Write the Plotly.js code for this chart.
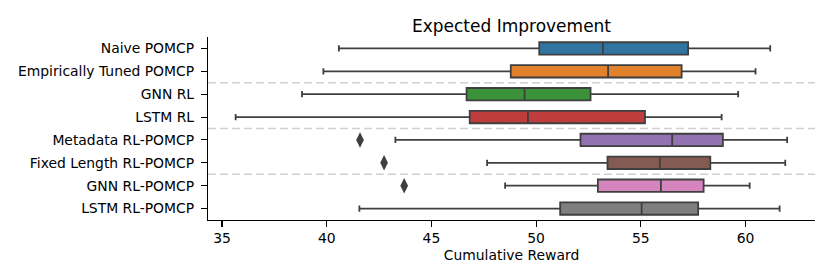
<!DOCTYPE html>
<html>
<head>
<meta charset="utf-8">
<script src="https://cdn.plot.ly/plotly-3.0.1.min.js"></script>
<style>html,body{margin:0;padding:0;background:#fff;}#chart{width:830px;height:280px;}</style>
</head>
<body>
<div id="chart"></div>
<script>
const categories = ["Naive POMCP","Empirically Tuned POMCP","GNN RL","LSTM RL","Metadata RL-POMCP","Fixed Length RL-POMCP","GNN RL-POMCP","LSTM RL-POMCP"];
const groups = ["baseline","baseline","rl","rl","ablation","ablation","ours","ours"];
const lowerWhisker = [40.58, 39.84, 38.82, 35.65, 43.28, 47.66, 48.52, 41.56];
const q1Values     = [50.15, 48.79, 46.68, 46.83, 52.12, 53.41, 52.95, 51.15];
const medianValues = [53.19, 53.44, 49.45, 49.61, 56.50, 55.91, 55.96, 55.04];
const q3Values     = [57.26, 56.95, 52.60, 55.20, 58.92, 58.32, 58.00, 57.74];
const upperWhisker = [61.18, 60.48, 59.65, 58.86, 61.99, 61.90, 60.20, 61.63];
const outlierCategories = ["Metadata RL-POMCP","Fixed Length RL-POMCP","GNN RL-POMCP"];
const outlierValues = [41.59, 42.74, 43.70];
const fillColors = ["#3274a1","#e1812c","#3a923a","#c03d3e","#9372b2","#845b53","#d684bd","#7f7f7f"];
const xTicks = [35, 40, 45, 50, 55, 60];

const edge = "#3f3f3f";
const traces = categories.map((c, i) => ({
  type: "box",
  orientation: "h",
  y: [c],
  q1: [q1Values[i]],
  median: [medianValues[i]],
  q3: [q3Values[i]],
  lowerfence: [lowerWhisker[i]],
  upperfence: [upperWhisker[i]],
  boxpoints: false,
  width: 0.54,
  whiskerwidth: 0.5,
  fillcolor: fillColors[i],
  line: {color: edge, width: 1.8},
  showlegend: false,
  hoverinfo: "x"
}));
traces.push({
  type: "scatter",
  mode: "markers",
  x: outlierValues,
  y: outlierCategories,
  marker: {symbol: "diamond-tall", size: 11, color: edge, line: {width: 0}},
  showlegend: false
});

const shapes = [];
for (let i = 1; i < groups.length; i++) {
  if (groups[i] !== groups[i-1]) {
    shapes.push({type: "line", xref: "paper", x0: 0, x1: 1, yref: "y", y0: i - 0.5, y1: i - 0.5,
      line: {color: "#d0d0d0", width: 1.5, dash: "8px,4px"}, layer: "below"});
  }
}

const font = "DejaVu Sans, sans-serif";
const layout = {
  width: 830, height: 280,
  margin: {l: 208, r: 15, t: 37, b: 60},
  paper_bgcolor: "#fff", plot_bgcolor: "#fff",
  font: {family: font, size: 13.9, color: "#000"},
  title: {text: "Expected Improvement", font: {family: font, size: 17, color: "#000"},
          xref: "paper", x: 0.5, xanchor: "center", yref: "paper", y: 1, yanchor: "bottom", pad: {b: 5}},
  boxmode: "overlay",
  xaxis: {
    range: [34.33, 63.32], tickvals: xTicks, ticktext: xTicks.map(String),
    showgrid: false, zeroline: false, showline: true, linecolor: "#000", linewidth: 1.1,
    ticks: "outside", ticklen: 5.5, tickwidth: 1.1, tickcolor: "#000",
    tickfont: {family: font, size: 13.9, color: "#000"},
    title: {text: "Cumulative Reward", font: {family: font, size: 13.9, color: "#000"}, standoff: 5}
  },
  yaxis: {
    type: "category", categoryorder: "array", categoryarray: categories,
    range: [7.5, -0.5],
    showgrid: false, zeroline: false, showline: true, linecolor: "#000", linewidth: 1.1,
    ticks: "outside", ticklen: 6, tickwidth: 1.1, tickcolor: "#000", ticklabelstandoff: 4,
    tickfont: {family: font, size: 13.9, color: "#000"}
  },
  shapes: shapes
};
Plotly.newPlot("chart", traces, layout, {displayModeBar: false, staticPlot: true});
</script>
</body>
</html>
